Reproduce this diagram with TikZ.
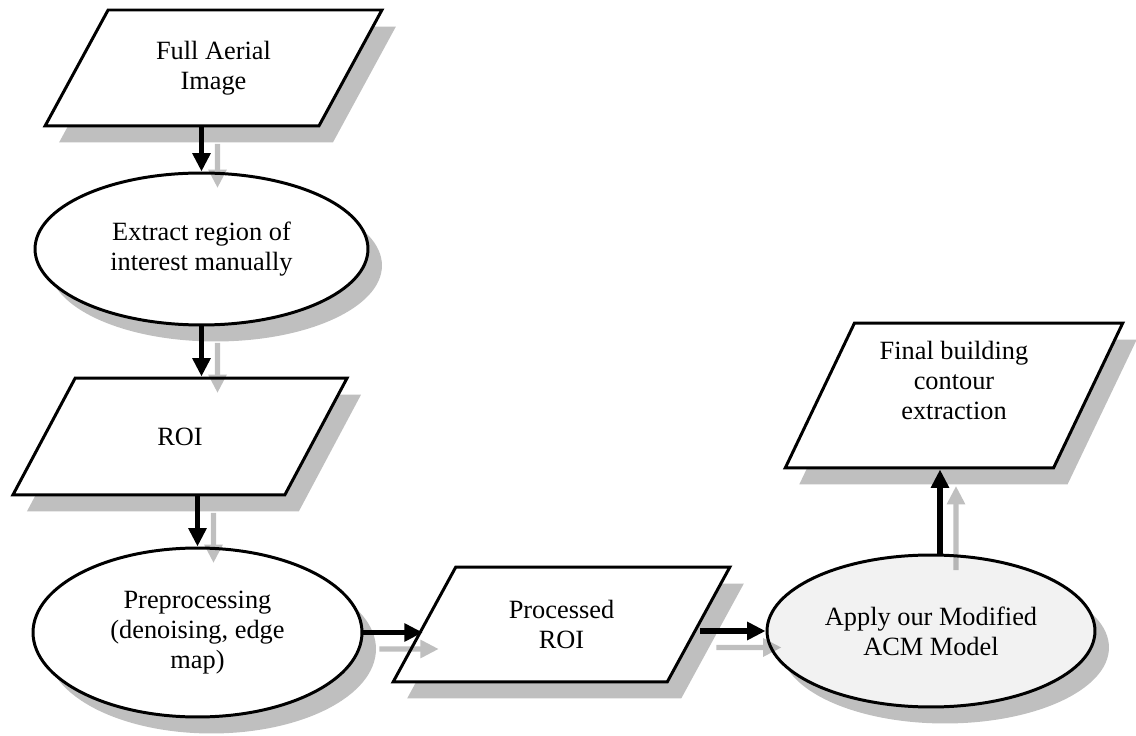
\documentclass[tikz,border=0pt]{standalone}
\usepackage{fontspec}
\setmainfont{Liberation Serif}
\usetikzlibrary{shapes.geometric,shadows,arrows.meta}

\begin{document}
\begin{tikzpicture}[x=0.02cm, y=-0.02cm]

\tikzstyle{boxshadow} = [drop shadow={shadow xshift=0.28cm, shadow yshift=-0.33cm, fill=black!25, opacity=1}]
\tikzstyle{steptext} = [align=center, font=\fontsize{15}{17}\selectfont]
\tikzstyle{iobox} = [trapezium, trapezium left angle=60, trapezium right angle=120,
  trapezium stretches=true, draw=black, line width=1.7pt, fill=white, boxshadow, steptext]
\tikzstyle{stepell} = [ellipse, draw=black, line width=1.7pt, fill=white, boxshadow, steptext, inner sep=0pt]
\tikzstyle{flow} = [line width=3pt, -{Triangle[length=0.37cm, width=0.35cm]}]
\tikzstyle{arrowshift} = [xshift=0.32cm, yshift=-0.33cm]

\newcommand{\flowpair}[2]{%
  \begin{scope}[transparency group, opacity=0.25]
    \draw[flow] ([arrowshift]#1) -- ([arrowshift]#2);
  \end{scope}
  \draw[flow] (#1) -- (#2);
}

\useasboundingbox (0,0) rectangle (1136,736);

% left column
\node[at={(213.5,68)}, iobox, minimum width=6.74cm, minimum height=2.32cm] (full)
  {Full Aerial\\Image};
\node[at={(201.5,249)}, stepell, minimum width=6.66cm, minimum height=3.04cm] (extract)
  {Extract region of\\interest manually};
\node[at={(180,436.5)}, iobox, minimum width=6.72cm, minimum height=2.34cm] (roi)
  {ROI};
\node[at={(197.5,632.5)}, stepell, minimum width=6.58cm, minimum height=3.38cm] (prep)
  {Preprocessing\\(denoising, edge\\map)};

% bottom row and result
\node[at={(561.5,624.5)}, iobox, minimum width=6.74cm, minimum height=2.3cm] (proc)
  {Processed\\ROI};
\node[at={(931,631)}, stepell, fill=black!5, minimum width=6.56cm, minimum height=3.04cm] (acm)
  {Apply our Modified\\ACM Model};
\node[at={(954,395.5)}, iobox, trapezium left angle=65, trapezium right angle=115,
  minimum width=6.76cm, minimum height=2.9cm] (final)
  {Final building\\contour\\extraction\\\mbox{}};

\coordinate (f1) at (extract.north |- full.south);
\coordinate (f2) at (extract.north);
\coordinate (e1) at (extract.south);
\coordinate (e2) at (extract.south |- roi.north);
\coordinate (r1) at (prep.north |- roi.south);
\coordinate (r2) at (prep.north);
\coordinate (p1) at (prep.east);
\coordinate (p2) at (prep.east -| proc.west);
\coordinate (q1) at (proc.east |- acm.west);
\coordinate (q2) at (acm.west);
\coordinate (m1) at ([xshift=0.18cm]acm.north);
\coordinate (m2) at (m1 |- final.south);

\flowpair{f1}{f2}
\flowpair{e1}{e2}
\flowpair{r1}{r2}
\flowpair{p1}{p2}
\flowpair{q1}{q2}
\flowpair{m1}{m2}

\end{tikzpicture}
\end{document}
